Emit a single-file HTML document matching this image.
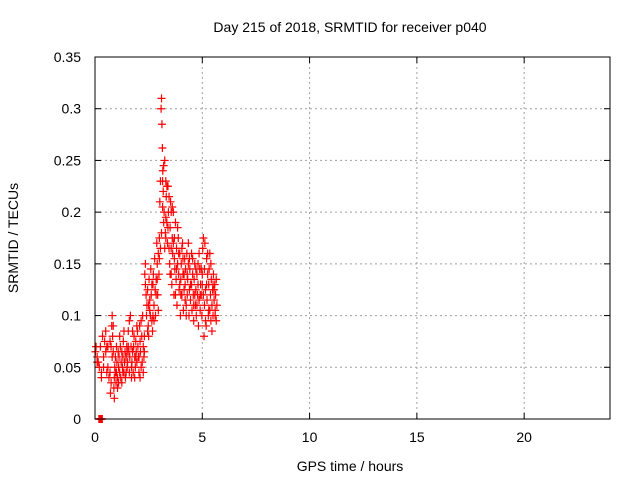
<!DOCTYPE html>
<html><head><meta charset="utf-8"><style>
body{margin:0;background:#fff}
svg text{font-family:"Liberation Sans",sans-serif;font-size:14px;fill:#000}
</style></head><body>
<svg id="c" width="640" height="480" xmlns="http://www.w3.org/2000/svg">
<rect width="640" height="480" fill="#fff"/>
<text x="350" y="32" text-anchor="middle">Day 215 of 2018, SRMTID for receiver p040</text>
<text x="350" y="471" text-anchor="middle">GPS time / hours</text>
<text x="0" y="0" text-anchor="middle" transform="translate(18,238) rotate(-90)">SRMTID / TECUs</text>
<g id="grid"></g><g id="ticks"></g><g id="pts"></g>
<rect x="95" y="57" width="515" height="362" fill="none" stroke="#000" stroke-width="1"/>
</svg>
<script>
const xTicks=[0,5,10,15,20];
const yTicks=[0,0.05,0.1,0.15,0.2,0.25,0.3,0.35];
const yTickLabels=["0","0.05","0.1","0.15","0.2","0.25","0.3","0.35"];
const times=[0.02,0.05,0.1,0.15,0.2,0.25,0.3,0.35,0.4,0.45,0.5,0.55,0.6,0.65,0.7,0.72,0.75,0.78,0.8,0.82,0.85,0.88,0.9,0.92,0.95,0.98,1.0,1.02,1.05,1.08,1.1,1.12,1.15,1.18,1.2,1.22,1.25,1.28,1.3,1.32,1.35,1.38,1.4,1.42,1.45,1.48,1.5,1.52,1.55,1.58,1.6,1.62,1.65,1.68,1.7,1.72,1.75,1.78,1.8,1.82,1.85,1.88,1.9,1.92,1.95,1.98,2.0,2.02,2.05,2.08,2.1,2.12,2.15,2.18,2.2,2.22,2.25,2.28,2.3,2.32,2.35,2.38,2.4,2.42,2.45,2.48,2.5,2.52,2.55,2.58,2.6,2.62,2.65,2.68,2.7,2.72,2.75,2.78,2.8,2.82,2.85,2.88,2.9,2.92,2.95,2.98,3.0,3.02,3.05,3.08,3.1,3.12,3.14,3.16,3.18,3.2,3.22,3.25,3.28,3.3,3.32,3.35,3.38,3.4,3.42,3.45,3.48,3.5,3.52,3.55,3.58,3.6,3.62,3.65,3.68,3.7,3.72,3.75,3.78,3.8,3.82,3.85,3.88,3.9,3.92,3.95,3.98,4.0,4.02,4.05,4.08,4.1,4.12,4.15,4.18,4.2,4.22,4.25,4.28,4.3,4.32,4.35,4.38,4.4,4.42,4.45,4.48,4.5,4.52,4.55,4.58,4.6,4.62,4.65,4.68,4.7,4.72,4.75,4.78,4.8,4.82,4.85,4.88,4.9,4.92,4.95,4.98,5.0,5.02,5.05,5.08,5.1,5.12,5.15,5.18,5.2,5.22,5.25,5.28,5.3,5.32,5.35,5.38,5.4,5.42,5.45,5.48,5.5,5.52,5.55,5.58,5.6,5.62,5.65,5.68,
0.4,0.6,0.8,0.95,1.1,1.3,1.5,1.7,1.9,2.1,2.3,2.5,2.7,2.9,3.05,3.15,3.2,3.3,3.35,3.45,3.55,3.6,3.7,3.8,3.9,4.0,4.1,4.2,4.3,4.4,4.5,4.6,4.7,4.8,4.9,5.0,5.1,5.2,5.3,5.4,5.5,5.6,
0.1,0.3,0.5,0.55,0.7,0.75,0.85,0.9,1.0,1.05,1.15,1.25,1.35,1.45,1.55,1.6,1.75,1.85,1.95,2.05,2.15,2.25,2.35,2.45,2.55,2.65,2.75,2.85,2.95,3.0,3.1,3.15,3.25,3.3,3.4,3.5,3.55,3.65,3.75,3.85,3.95,4.05,4.15,4.25,4.35,4.45,4.55,4.65,4.75,4.85,4.95,5.05,5.15,5.25,5.35,5.45,5.55,5.65,
0.18,0.2,0.22,0.24,0.26,0.28,0.3,0.32,0.34];
const values=[.065,.07,.06,.055,.05,.07,.045,.08,.06,.075,.085,.07,.05,.04,.045,.025,.07,.09,.1,.08,.065,.03,.02,.05,.06,.035,.045,.055,.04,.065,.05,.06,.045,.07,.04,.055,.065,.05,.06,.075,.045,.055,.065,.04,.06,.07,.05,.055,.085,.065,.045,.06,.1,.07,.05,.055,.065,.045,.07,.08,.06,.05,.075,.065,.055,.085,.07,.06,.045,.09,.075,.065,.05,.08,.055,.1,.07,.06,.08,.14,.13,.12,.1,.11,.125,.09,.08,.135,.115,.1,.145,.12,.095,.085,.13,.14,.11,.155,.125,.1,.135,.17,.15,.12,.16,.14,.175,.21,.23,.3,.31,.285,.262,.24,.22,.245,.2,.25,.18,.23,.215,.19,.17,.225,.2,.165,.15,.185,.21,.14,.13,.175,.16,.2,.12,.155,.145,.19,.135,.165,.11,.15,.175,.14,.125,.16,.1,.135,.15,.12,.17,.14,.105,.125,.155,.13,.145,.11,.16,.12,.135,.15,.1,.125,.145,.115,.13,.16,.105,.14,.12,.095,.135,.15,.11,.125,.1,.14,.12,.13,.09,.115,.145,.105,.13,.12,.1,.14,.165,.175,.08,.11,.17,.125,.09,.155,.115,.16,.1,.13,.145,.105,.12,.095,.135,.11,.125,.1,.14,.115,.13,.105,.12,.095,.11,
.05,.07,.06,.045,.035,.045,.065,.04,.06,.04,.065,.11,.1,.135,.165,.205,.19,.195,.225,.215,.165,.205,.175,.145,.16,.12,.155,.115,.14,.155,.13,.11,.145,.15,.12,.13,.145,.13,.105,.15,.13,.1,
.055,.04,.065,.045,.075,.035,.09,.04,.07,.03,.08,.035,.085,.045,.07,.095,.085,.04,.09,.06,.095,.045,.15,.085,.105,.13,.095,.12,.105,.155,.18,.23,.165,.175,.185,.14,.2,.17,.12,.185,.13,.165,.14,.1,.17,.13,.155,.12,.11,.16,.145,.12,.095,.14,.16,.085,.125,.135,
0,0,0,0,0,0,0,0,0];
const X0=95,X1=610,Y0=419,Y1=57;
function sx(t){return X0+(X1-X0)*t/24;}
function sy(v){return Y0-(Y0-Y1)*v/0.35;}
const NS="http://www.w3.org/2000/svg";
function mk(tag,attrs,parent){const e=document.createElementNS(NS,tag);for(const k in attrs)e.setAttribute(k,attrs[k]);parent.appendChild(e);return e;}
const grid=document.getElementById('grid'),ticks=document.getElementById('ticks'),pts=document.getElementById('pts');
xTicks.forEach(t=>{const x=sx(t);
 if(t>0){const g=mk('line',{x1:x,x2:x,y1:Y0,y2:Y1,stroke:'#a0a0a0','stroke-dasharray':'2,3'},grid);
 
 }
 mk('line',{x1:x,x2:x,y1:Y0,y2:Y0-6,stroke:'#000'},ticks);
 mk('line',{x1:x,x2:x,y1:Y1,y2:Y1+6,stroke:'#000'},ticks);
 const l=mk('text',{x:x,y:Y0+23,'text-anchor':'middle'},ticks);l.textContent=t;
 
 
});
yTicks.forEach((v,i)=>{const y=sy(v);
 if(i>0&&i<yTicks.length-1){const g=mk('line',{x1:X0,x2:X1,y1:y,y2:y,stroke:'#a0a0a0','stroke-dasharray':'2,3'},grid);
 
 }
 mk('line',{x1:X0,x2:X0+6,y1:y,y2:y,stroke:'#000'},ticks);
 mk('line',{x1:X1,x2:X1-6,y1:y,y2:y,stroke:'#000'},ticks);
 const l=mk('text',{x:X0-14,y:y+5,'text-anchor':'end'},ticks);l.textContent=yTickLabels[i];
 
 
});
for(let i=0;i<times.length;i++){const x=sx(times[i]),y=sy(values[i]);
 const p=mk('path',{d:`M${x-4},${y}H${x+4}M${x},${y-4}V${y+4}`,stroke:'#f00','stroke-width':1.2,fill:'none'},pts);
 
 
}
</script>
</body></html>
